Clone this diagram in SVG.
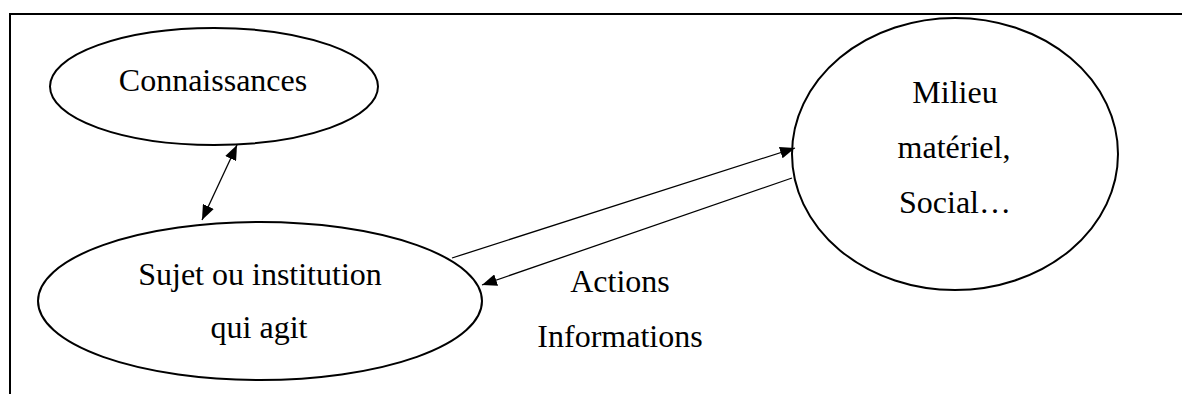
<svg xmlns="http://www.w3.org/2000/svg" width="1182" height="394" viewBox="0 0 1182 394">
<style>
.node{fill:#fff;stroke:#000;stroke-width:2}
.lbl{font-family:"Liberation Serif","Times New Roman",serif;font-size:32px;fill:#000;text-anchor:middle}
.conn{stroke:#000;stroke-width:1.3;fill:none}
</style>
<defs>
<marker id="ah" markerUnits="userSpaceOnUse" markerWidth="16" markerHeight="12" refX="15" refY="6" orient="auto-start-reverse">
<path d="M0,0 L15,6 L0,12 Z" fill="#000"/>
</marker>
</defs>
<rect width="1182" height="394" fill="#fff"/>
<path d="M10,394 L10,14 L1182,14" fill="none" stroke="#000" stroke-width="2"/>
<g id="connaissances">
<ellipse class="node" cx="214" cy="86.5" rx="164" ry="58.5"/>
<text class="lbl" x="213" y="91">Connaissances</text>
</g>
<g id="sujet">
<ellipse class="node" cx="260" cy="301" rx="222" ry="79"/>
<text class="lbl" x="260" y="285">Sujet ou institution</text>
<text class="lbl" x="259" y="338">qui agit</text>
</g>
<g id="milieu">
<ellipse class="node" cx="955" cy="154" rx="163" ry="136"/>
<text class="lbl" x="955" y="103">Milieu</text>
<text class="lbl" x="954" y="158">matériel,</text>
<text class="lbl" x="955" y="213">Social…</text>
</g>
<g id="labels">
<text class="lbl" x="620" y="292">Actions</text>
<text class="lbl" x="620" y="347">Informations</text>
</g>
<g id="connectors">
<line class="conn" x1="202" y1="220" x2="237" y2="145" marker-start="url(#ah)" marker-end="url(#ah)"/>
<line class="conn" x1="452" y1="258" x2="795" y2="148" marker-end="url(#ah)"/>
<line class="conn" x1="792" y1="178" x2="482" y2="285" marker-end="url(#ah)"/>
</g>
</svg>
